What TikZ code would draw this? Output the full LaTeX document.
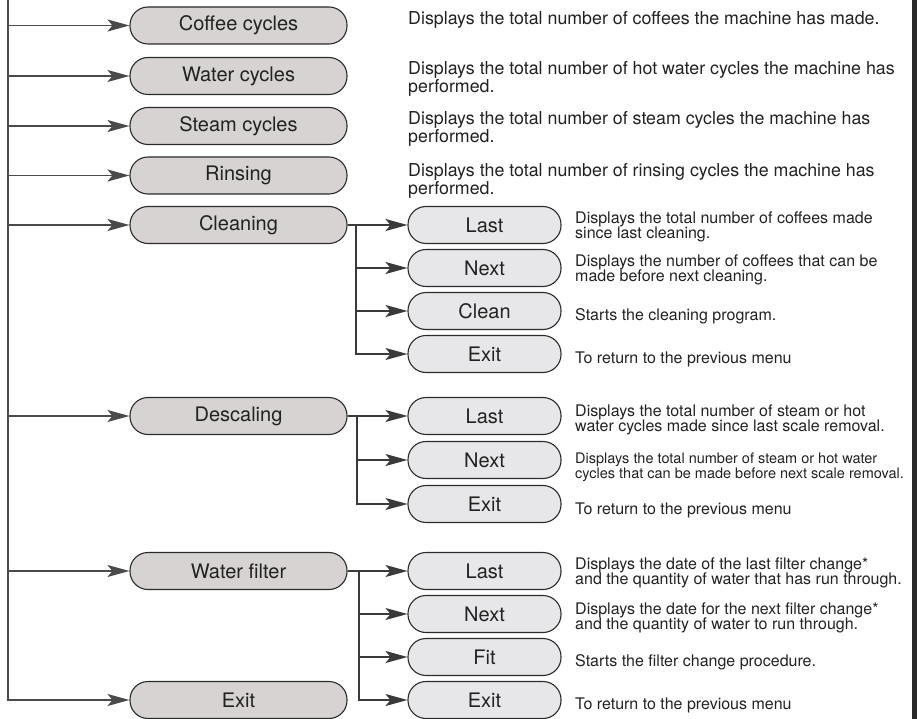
\documentclass[tikz,border=0pt]{standalone}
\usepackage{fontspec}
\setmainfont{TeX Gyre Heros}
\usetikzlibrary{arrows.meta}
\definecolor{mainfill}{HTML}{D6D3D2}
\definecolor{subfill}{HTML}{E7E7E9}
\definecolor{boxline}{HTML}{2B2B2B}
\definecolor{lncol}{HTML}{3A3A3A}
\definecolor{trunkcol}{HTML}{4A4A4A}
\definecolor{txt}{HTML}{222222}
\definecolor{barcol}{HTML}{2A2A2A}
\begin{document}
\begin{tikzpicture}[x=1pt,y=-1pt,
  mainbox/.style={draw=boxline, line width=1.1pt, fill=mainfill, rounded corners=18pt,
    minimum width=217pt, minimum height=37pt, inner sep=0pt, text=txt,
    font=\fontsize{20}{24}\selectfont},
  subbox/.style={mainbox, fill=subfill, minimum width=153pt},
  conn/.style={draw=lncol, line width=1.4pt, -{Stealth[length=22pt,width=12pt,inset=5pt]}},
  trunk/.style={conn, draw=trunkcol, line width=1.6pt},
  mdesc/.style={anchor=base west, align=left, inner sep=0pt, text=txt,
    font=\fontsize{17.8}{18}\selectfont},
  sdesc/.style={anchor=base west, align=left, inner sep=0pt, text=txt,
    font=\fontsize{16}{15.5}\selectfont},
  sdescsmall/.style={sdesc, font=\fontsize{14.5}{15}\selectfont}
]
\useasboundingbox (0,0) rectangle (917,719);
\fill[white] (0,0) rectangle (917,719);
\fill[barcol] (912,0) rectangle (917,719);

% main menu boxes
\node[mainbox] (coffee) at (238.5,25.5) {Coffee cycles};
\node[mainbox] (water)  at (238.5,76) {Water cycles};
\node[mainbox] (steam)  at (238.5,126) {Steam cycles};
\node[mainbox] (rinse)  at (238.5,175.5) {Rinsing};
\node[mainbox] (clean)  at (238.5,225) {Cleaning};
\node[mainbox] (desc)   at (238.5,416) {Descaling};
\node[mainbox] (filt)   at (238.5,571) {Water filter};
\node[mainbox] (exitM)  at (238.5,700) {Exit};

% trunk
\coordinate (top) at (8,0);
\draw[trunk] (top) |- (exitM.west);
\foreach \n in {coffee,water,steam,rinse,clean,desc,filt}
  \draw[trunk] (\n.west -| top) -- (\n.west);

% cleaning submenu
\node[subbox] (cLast)  at (484.5,225) {Last};
\node[subbox] (cNext)  at (484.5,268) {Next};
\node[subbox] (cClean) at (484.5,311) {Clean};
\node[subbox] (cExit)  at (484.5,354) {Exit};
\coordinate (cb) at (356,225);
\draw[conn] (clean.east) -- (cLast.west);
\draw[conn] (cb) |- (cExit.west);
\draw[conn] (cNext.west -| cb) -- (cNext.west);
\draw[conn] (cClean.west -| cb) -- (cClean.west);

% descaling submenu
\node[subbox] (dLast) at (484.5,416) {Last};
\node[subbox] (dNext) at (484.5,460) {Next};
\node[subbox] (dExit) at (484.5,504) {Exit};
\coordinate (db) at (357,416);
\draw[conn] (desc.east) -- (dLast.west);
\draw[conn] (db) |- (dExit.west);
\draw[conn] (dNext.west -| db) -- (dNext.west);

% water filter submenu
\node[subbox] (fLast) at (484.5,571) {Last};
\node[subbox] (fNext) at (484.5,614) {Next};
\node[subbox] (fFit)  at (484.5,657) {Fit};
\node[subbox] (fExit) at (484.5,700) {Exit};
\coordinate (fb) at (359,571);
\draw[conn] (filt.east) -- (fLast.west);
\draw[conn] (fb) |- (fExit.west);
\draw[conn] (fNext.west -| fb) -- (fNext.west);
\draw[conn] (fFit.west -| fb) -- (fFit.west);

% main descriptions (anchor = baseline of last line)
\node[mdesc] (t1) at (408,24.5) {Displays the total number of coffees the machine has made.};
\node[mdesc] (t2) at (408,93) {Displays the total number of hot water cycles the machine has\\performed.};
\node[mdesc] (t3) at (408,143) {Displays the total number of steam cycles the machine has\\performed.};
\node[mdesc] (t4) at (408,194.5) {Displays the total number of rinsing cycles the machine has\\performed.};

% sub descriptions
\node[sdesc] (s1) at (575,238.5) {Displays the total number of coffees made\\since last cleaning.};
\node[sdesc] (s2) at (575,281.5) {Displays the number of coffees that can be\\made before next cleaning.};
\node[sdesc] (s3) at (575,320) {Starts the cleaning program.};
\node[sdesc] (s4) at (575,363) {To return to the previous menu};
\node[sdesc] (s5) at (575,431.5) {Displays the total number of steam or hot\\water cycles made since last scale removal.};
\node[sdescsmall] (s6) at (575,478.5) {Displays the total number of steam or hot water\\cycles that can be made before next scale removal.};
\node[sdesc] (s7) at (575,514) {To return to the previous menu};
\node[sdesc] (s8) at (575,584.5) {Displays the date of the last filter change*\\and the quantity of water that has run through.};
\node[sdesc] (s9) at (575,629.5) {Displays the date for the next filter change*\\and the quantity of water to run through.};
\node[sdesc] (s10) at (575,666) {Starts the filter change procedure.};
\node[sdesc] (s11) at (575,709) {To return to the previous menu};
\end{tikzpicture}
\end{document}
